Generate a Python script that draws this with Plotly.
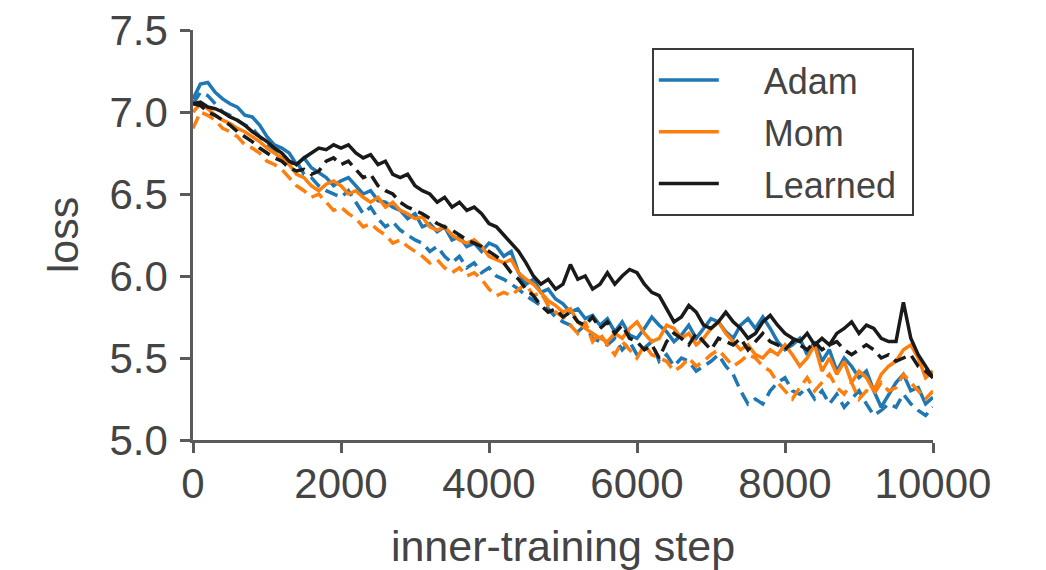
import plotly.graph_objects as go

steps = list(range(0, 10001, 100))

adam_solid = [7.08, 7.17, 7.18, 7.12, 7.08, 7.05, 7.03, 6.98, 6.97, 6.92,
              6.85, 6.80, 6.78, 6.75, 6.68, 6.72, 6.66, 6.63, 6.60, 6.55,
              6.58, 6.60, 6.55, 6.50, 6.52, 6.46, 6.45, 6.42, 6.40, 6.35,
              6.38, 6.30, 6.32, 6.27, 6.30, 6.22, 6.24, 6.18, 6.20, 6.15,
              6.20, 6.18, 6.12, 6.15, 6.02, 5.95, 5.98, 5.90, 5.92, 5.86,
              5.83, 5.78, 5.80, 5.74, 5.76, 5.70, 5.74, 5.66, 5.72, 5.64,
              5.62, 5.68, 5.75, 5.70, 5.66, 5.60, 5.64, 5.70, 5.62, 5.68,
              5.74, 5.72, 5.66, 5.62, 5.70, 5.74, 5.68, 5.75, 5.68, 5.60,
              5.55, 5.58, 5.62, 5.52, 5.60, 5.48, 5.55, 5.42, 5.50, 5.45,
              5.38, 5.42, 5.30, 5.20, 5.28, 5.35, 5.40, 5.30, 5.32, 5.22,
              5.26]

adam_dashed = [7.05, 7.12, 7.10, 7.05, 7.00, 6.98, 6.95, 6.92, 6.90, 6.85,
               6.80, 6.76, 6.72, 6.68, 6.70, 6.62, 6.60, 6.55, 6.52, 6.50,
               6.48, 6.52, 6.45, 6.38, 6.42, 6.35, 6.30, 6.33, 6.28, 6.25,
               6.22, 6.20, 6.15, 6.18, 6.12, 6.08, 6.12, 6.05, 6.08, 6.02,
               6.05, 6.00, 5.98, 5.95, 5.92, 5.88, 5.85, 5.82, 5.80, 5.75,
               5.72, 5.70, 5.66, 5.70, 5.62, 5.60, 5.58, 5.62, 5.55, 5.60,
               5.52, 5.56, 5.60, 5.48, 5.52, 5.45, 5.50, 5.48, 5.42, 5.45,
               5.48, 5.52, 5.45, 5.40, 5.30, 5.22, 5.25, 5.22, 5.30, 5.35,
               5.38, 5.30, 5.28, 5.32, 5.25, 5.30, 5.22, 5.28, 5.20, 5.25,
               5.30, 5.22, 5.15, 5.18, 5.22, 5.20, 5.28, 5.22, 5.18, 5.15,
               5.20]

mom_solid = [7.00, 7.05, 7.02, 6.98, 6.95, 6.93, 6.90, 6.88, 6.85, 6.82,
             6.78, 6.75, 6.72, 6.68, 6.62, 6.60, 6.55, 6.52, 6.56, 6.58,
             6.55, 6.50, 6.52, 6.48, 6.45, 6.48, 6.42, 6.45, 6.40, 6.38,
             6.35, 6.36, 6.30, 6.28, 6.30, 6.25, 6.22, 6.20, 6.22, 6.18,
             6.12, 6.10, 6.08, 6.10, 6.02, 5.98, 5.95, 5.90, 5.85, 5.82,
             5.78, 5.80, 5.72, 5.68, 5.65, 5.62, 5.60, 5.65, 5.62, 5.68,
             5.72, 5.65, 5.60, 5.62, 5.70, 5.68, 5.62, 5.65, 5.58, 5.62,
             5.68, 5.72, 5.65, 5.60, 5.55, 5.58, 5.52, 5.50, 5.55, 5.52,
             5.58, 5.52, 5.45, 5.50, 5.58, 5.42, 5.50, 5.40, 5.48, 5.35,
             5.42, 5.38, 5.30, 5.40, 5.45, 5.48, 5.55, 5.58, 5.50, 5.38,
             5.42]

mom_dashed = [6.90, 7.00, 6.98, 6.95, 6.90, 6.88, 6.85, 6.80, 6.78, 6.75,
              6.70, 6.68, 6.65, 6.60, 6.55, 6.52, 6.48, 6.50, 6.45, 6.40,
              6.42, 6.38, 6.35, 6.30, 6.32, 6.28, 6.25, 6.20, 6.22, 6.18,
              6.15, 6.12, 6.08, 6.10, 6.05, 6.02, 6.05, 6.00, 6.02, 5.98,
              5.92, 5.88, 5.90, 5.88, 5.92, 5.95, 5.88, 5.90, 5.82, 5.78,
              5.75, 5.70, 5.65, 5.72, 5.60, 5.65, 5.58, 5.52, 5.60, 5.55,
              5.50, 5.58, 5.52, 5.50, 5.48, 5.42, 5.45, 5.50, 5.45, 5.48,
              5.52, 5.55, 5.50, 5.45, 5.48, 5.52, 5.50, 5.45, 5.42, 5.35,
              5.30, 5.25, 5.32, 5.38, 5.30, 5.35, 5.40, 5.32, 5.28, 5.35,
              5.25, 5.30, 5.28, 5.35, 5.30, 5.32, 5.40, 5.35, 5.30, 5.25,
              5.30]

learned_solid = [7.05, 7.06, 7.03, 7.02, 7.00, 6.97, 6.95, 6.92, 6.88, 6.85,
                 6.82, 6.78, 6.75, 6.70, 6.68, 6.72, 6.75, 6.78, 6.77, 6.80,
                 6.78, 6.80, 6.75, 6.72, 6.74, 6.68, 6.70, 6.62, 6.60, 6.62,
                 6.55, 6.52, 6.50, 6.45, 6.48, 6.42, 6.45, 6.40, 6.42, 6.38,
                 6.32, 6.30, 6.25, 6.20, 6.15, 6.08, 6.00, 5.95, 5.98, 5.92,
                 5.95, 6.07, 5.98, 6.00, 5.92, 5.95, 6.02, 5.95, 6.00, 6.04,
                 6.02, 5.95, 5.90, 5.88, 5.80, 5.72, 5.75, 5.82, 5.78, 5.70,
                 5.68, 5.72, 5.78, 5.72, 5.68, 5.62, 5.65, 5.72, 5.76, 5.70,
                 5.65, 5.62, 5.60, 5.65, 5.58, 5.62, 5.58, 5.65, 5.68, 5.72,
                 5.65, 5.70, 5.68, 5.62, 5.60, 5.60, 5.84, 5.62, 5.52, 5.45,
                 5.38]

learned_dashed = [7.05, 7.04, 7.00, 6.98, 6.95, 6.92, 6.88, 6.85, 6.82, 6.78,
                  6.75, 6.72, 6.70, 6.66, 6.64, 6.65, 6.62, 6.64, 6.70, 6.72,
                  6.68, 6.70, 6.65, 6.60, 6.62, 6.55, 6.52, 6.50, 6.45, 6.42,
                  6.40, 6.38, 6.35, 6.32, 6.30, 6.28, 6.25, 6.22, 6.20, 6.18,
                  6.15, 6.12, 6.08, 6.02, 5.98, 5.92, 5.88, 5.82, 5.78, 5.80,
                  5.75, 5.78, 5.72, 5.70, 5.75, 5.68, 5.72, 5.65, 5.70, 5.62,
                  5.60, 5.55, 5.58, 5.50, 5.60, 5.65, 5.62, 5.58, 5.65, 5.60,
                  5.55, 5.62, 5.60, 5.58, 5.62, 5.55, 5.60, 5.65, 5.60, 5.58,
                  5.55, 5.60, 5.58, 5.55, 5.60, 5.55, 5.58, 5.60, 5.55, 5.52,
                  5.55, 5.58, 5.55, 5.50, 5.52, 5.48, 5.50, 5.52, 5.45, 5.42,
                  5.38]

x_ticks = [0, 2000, 4000, 6000, 8000, 10000]
y_ticks = [5.0, 5.5, 6.0, 6.5, 7.0, 7.5]

BLUE = "#1f77b4"
ORANGE = "#ff7f0e"
BLACK = "#1a1a1a"
AXIS = "#5a5a5a"
TEXT = "#444444"
FONT = "Liberation Sans, Arial, Helvetica, sans-serif"
PAD = "\u00a0\u00a0\u00a0\u00a0"

series = [
    ("Adam", adam_solid, BLUE, "solid", True),
    ("Adam", adam_dashed, BLUE, "13px,7px", False),
    ("Mom", mom_solid, ORANGE, "solid", True),
    ("Mom", mom_dashed, ORANGE, "13px,7px", False),
    ("Learned", learned_solid, BLACK, "solid", True),
    ("Learned", learned_dashed, BLACK, "13px,7px", False),
]

fig = go.Figure()
for name, vals, color, dash, show in series:
    fig.add_trace(go.Scatter(
        x=steps, y=vals, mode="lines", name=PAD + name + "\u00a0",
        line=dict(color=color, width=3.5, dash=dash),
        showlegend=show, legendgroup=name,
    ))

# the page body has an 8px margin, so the figure is sized to fit the window
fig.update_layout(
    width=1038, height=562,
    margin=dict(l=185, r=113, t=22, b=130),
    plot_bgcolor="white", paper_bgcolor="white",
    font=dict(family=FONT, color=TEXT, size=42),
    showlegend=True,
    legend=dict(
        x=0.62, y=0.956, xanchor="left", yanchor="top",
        bgcolor="white", bordercolor="#3a3a3a", borderwidth=2,
        font=dict(size=36, color=TEXT, family=FONT),
        tracegroupgap=2, itemwidth=60,
    ),
)
fig.update_xaxes(
    range=[0, 10000], tickvals=x_ticks, ticktext=[str(v) for v in x_ticks],
    showline=True, linecolor=AXIS, linewidth=2.5,
    ticks="outside", ticklen=10, tickwidth=2.5, tickcolor=AXIS,
    showgrid=False, zeroline=False, automargin=False,
    ticklabelstandoff=-5, ticklabeloverflow="allow",
    tickfont=dict(size=42, color=TEXT, family=FONT),
    title=dict(text="inner-training step", font=dict(size=43, color=TEXT, family=FONT), standoff=26),
)
fig.update_yaxes(
    range=[5.0, 7.5], tickvals=y_ticks, ticktext=["%.1f" % v for v in y_ticks],
    showline=True, linecolor=AXIS, linewidth=2.5,
    ticks="outside", ticklen=10, tickwidth=2.5, tickcolor=AXIS,
    showgrid=False, zeroline=False, automargin=False,
    ticklabelstandoff=4, ticklabeloverflow="allow",
    tickfont=dict(size=42, color=TEXT, family=FONT),
    title=dict(text="loss", font=dict(size=43, color=TEXT, family=FONT), standoff=18),
)

fig.write_html("out.html")
